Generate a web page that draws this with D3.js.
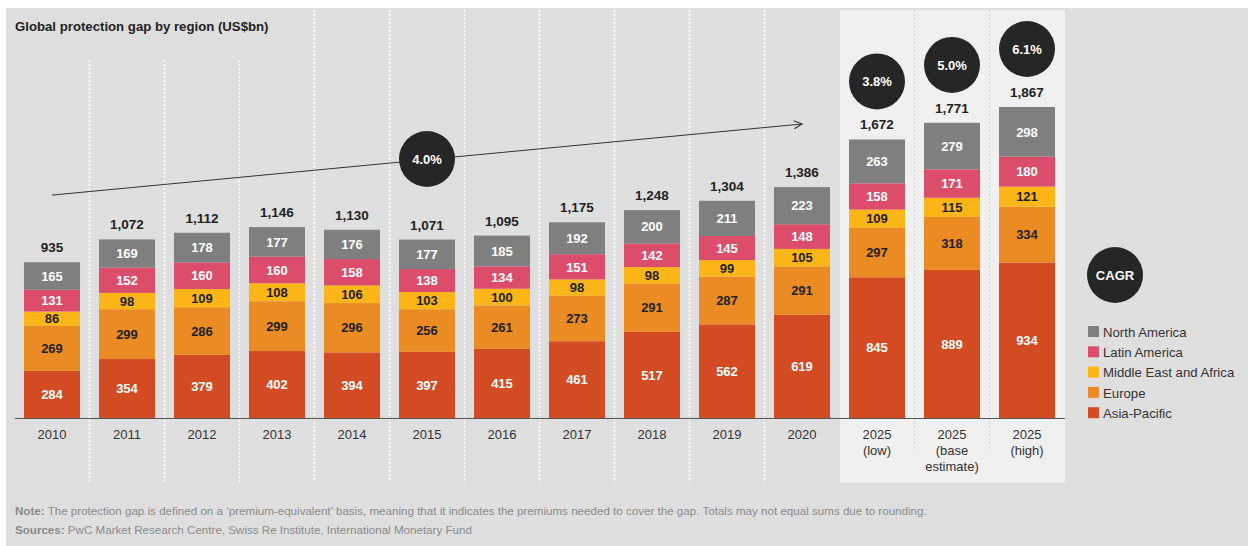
<!DOCTYPE html>
<html>
<head>
<meta charset="utf-8">
<script src="https://cdn.jsdelivr.net/npm/d3@7/dist/d3.min.js"></script>
<style>
  html, body { margin: 0; padding: 0; background: #fff; }
  svg { display: block; font-family: "Liberation Sans", Arial, sans-serif; }
</style>
</head>
<body>
<svg id="chart" width="1248" height="546"></svg>
<script>
// categories (second line of label after \n)
const years = ['2010', '2011', '2012', '2013', '2014', '2015', '2016', '2017', '2018', '2019', '2020',
  '2025\n(low)', '2025\n(base\nestimate)', '2025\n(high)'];

const asiaPacific = [284, 354, 379, 402, 394, 397, 415, 461, 517, 562, 619, 845, 889, 934];
const europe = [269, 299, 286, 299, 296, 256, 261, 273, 291, 287, 291, 297, 318, 334];
const middleEastAfrica = [86, 98, 109, 108, 106, 103, 100, 98, 98, 99, 105, 109, 115, 121];
const latinAmerica = [131, 152, 160, 160, 158, 138, 134, 151, 142, 145, 148, 158, 171, 180];
const northAmerica = [165, 169, 178, 177, 176, 177, 185, 192, 200, 211, 223, 263, 279, 298];
const totals = [935, 1072, 1112, 1146, 1130, 1071, 1095, 1175, 1248, 1304, 1386, 1672, 1771, 1867];

const regions = ['Asia-Pacific', 'Europe', 'Middle East and Africa', 'Latin America', 'North America'];
const regionColors = ['#d24b23', '#eb8b23', '#fdb517', '#dc4d6b', '#7f7f7f'];
const labelColors = ['#fff', '#222', '#222', '#fff', '#fff'];

const historicCagr = '4.0%';
const scenarioCagr = ['3.8%', '5.0%', '6.1%'];

const rows = years.map((y, i) => ({
  key: y,
  'Asia-Pacific': asiaPacific[i],
  'Europe': europe[i],
  'Middle East and Africa': middleEastAfrica[i],
  'Latin America': latinAmerica[i],
  'North America': northAmerica[i],
  total: totals[i]
}));

const svg = d3.select('#chart');

// background
svg.append('rect').attr('x', 6).attr('y', 8).attr('width', 1242).attr('height', 538).attr('fill', '#dfdfdf');
svg.append('rect').attr('x', 840).attr('y', 10).attr('width', 225).attr('height', 473).attr('fill', '#f0f0f0');

const x = d3.scaleBand()
  .domain(years)
  .range([14.5, 1064.5])
  .paddingInner(0.253)
  .paddingOuter(0.1265);

const y = d3.scaleLinear().domain([0, 1867]).range([418, 107]);

// column separators
const seps = years.slice(1).map(d => x(d) - x.step() * x.paddingInner() / 2);
svg.append('g').selectAll('line')
  .data(seps)
  .join('line')
  .attr('x1', d => d).attr('x2', d => d)
  .attr('y1', d => (d < 300 ? 60 : 10))
  .attr('y2', d => (d > 900 ? 452 : 483))
  .attr('stroke', (d, i) => (d > 900 ? '#d4d4d4' : '#fff'))
  .attr('stroke-width', d => (d > 900 ? 1 : 1.5))
  .attr('stroke-dasharray', '2,2')
  .filter(d => Math.abs(d - 839.5) < 1).remove();

// title
svg.append('text')
  .attr('x', 15).attr('y', 31)
  .attr('font-size', 13.2).attr('font-weight', 'bold').attr('fill', '#222')
  .text('Global protection gap by region (US$bn)');

// stacked bars
const stack = d3.stack().keys(regions);
const series = stack(rows);

const layers = svg.append('g').selectAll('g')
  .data(series)
  .join('g')
  .attr('fill', (d, i) => regionColors[i]);

layers.selectAll('rect')
  .data(d => d)
  .join('rect')
  .attr('x', d => x(d.data.key))
  .attr('width', x.bandwidth())
  .attr('y', d => y(d[1]))
  .attr('height', d => y(d[0]) - y(d[1]));

layers.selectAll('text')
  .data((d, i) => d.map(s => ({ s, i })))
  .join('text')
  .attr('x', d => x(d.s.data.key) + x.bandwidth() / 2)
  .attr('y', d => (y(d.s[0]) + y(d.s[1])) / 2)
  .attr('dy', '0.36em')
  .attr('text-anchor', 'middle')
  .attr('font-size', 13).attr('font-weight', 'bold')
  .attr('fill', d => labelColors[d.i])
  .text(d => d.s[1] - d.s[0]);

// totals
svg.append('g').selectAll('text')
  .data(rows)
  .join('text')
  .attr('x', d => x(d.key) + x.bandwidth() / 2)
  .attr('y', d => y(d.total) - 10)
  .attr('text-anchor', 'middle')
  .attr('font-size', 13.5).attr('font-weight', 'bold').attr('fill', '#222')
  .text(d => d3.format(',')(d.total));

// x axis
svg.append('line')
  .attr('x1', 15).attr('x2', 1065).attr('y1', 418.5).attr('y2', 418.5)
  .attr('stroke', '#555').attr('stroke-width', 1);

const xl = svg.append('g').selectAll('text')
  .data(years)
  .join('text')
  .attr('x', d => x(d) + x.bandwidth() / 2)
  .attr('y', 439)
  .attr('text-anchor', 'middle')
  .attr('font-size', 13).attr('fill', '#333');
xl.selectAll('tspan')
  .data(d => d.split('\n').map((t, i) => ({ t, i, d })))
  .join('tspan')
  .attr('x', d => x(d.d) + x.bandwidth() / 2)
  .attr('dy', d => (d.i ? 16 : 0))
  .text(d => d.t);

// growth arrow 2010 -> 2020
const defs = svg.append('defs');
defs.append('marker')
  .attr('id', 'arrow')
  .attr('viewBox', '0 0 10 10')
  .attr('refX', 9).attr('refY', 5)
  .attr('markerWidth', 10).attr('markerHeight', 10)
  .attr('markerUnits', 'userSpaceOnUse')
  .attr('orient', 'auto')
  .append('path')
  .attr('d', 'M1,1 L9,5 L1,9')
  .attr('fill', 'none').attr('stroke', '#333').attr('stroke-width', 1.2);

const cx = k => x(k) + x.bandwidth() / 2;
svg.append('line')
  .attr('x1', cx('2010')).attr('y1', y(1338))
  .attr('x2', cx('2020')).attr('y2', y(1765))
  .attr('stroke', '#333').attr('stroke-width', 1)
  .attr('marker-end', 'url(#arrow)');

function badge(px, py, label) {
  svg.append('circle').attr('cx', px).attr('cy', py).attr('r', 28).attr('fill', '#262626');
  svg.append('text')
    .attr('x', px).attr('y', py).attr('dy', '0.36em')
    .attr('text-anchor', 'middle')
    .attr('font-size', 13).attr('font-weight', 'bold').attr('fill', '#fff')
    .text(label);
}

badge(cx('2015'), 159, historicCagr);
rows.slice(11).forEach((d, i) => badge(cx(d.key), y(d.total) - 58, scenarioCagr[i]));

// legend
badge(1115, 275, 'CAGR');
const legend = svg.append('g').selectAll('g')
  .data(regions.slice().reverse())
  .join('g')
  .attr('transform', (d, i) => `translate(1088,${326 + i * 20.3})`);
legend.append('rect')
  .attr('width', 11).attr('height', 11)
  .attr('fill', d => regionColors[regions.indexOf(d)]);
legend.append('text')
  .attr('x', 15).attr('y', 6).attr('dy', '0.36em')
  .attr('font-size', 13.2).attr('fill', '#333')
  .text(d => d);

// notes
const note = svg.append('text').attr('x', 15).attr('y', 515).attr('font-size', 11.6).attr('fill', '#8a8a8a');
note.append('tspan').attr('font-weight', 'bold').text('Note:');
note.append('tspan').text(' The protection gap is defined on a \u2018premium-equivalent\u2019 basis, meaning that it indicates the premiums needed to cover the gap. Totals may not equal sums due to rounding.');
const src = svg.append('text').attr('x', 15).attr('y', 534).attr('font-size', 11.6).attr('fill', '#8a8a8a');
src.append('tspan').attr('font-weight', 'bold').text('Sources:');
src.append('tspan').text(' PwC Market Research Centre, Swiss Re Institute, International Monetary Fund');
</script>
</body>
</html>
